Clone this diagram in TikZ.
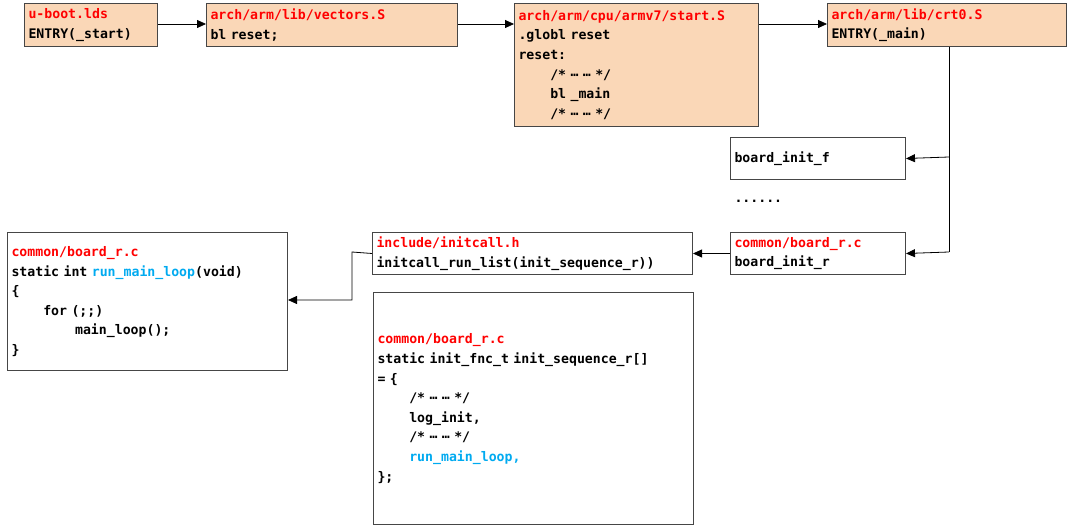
\documentclass[tikz,border=0pt]{standalone}
\usepackage{fontspec}
\setmonofont{DejaVu Sans Mono}
\usetikzlibrary{arrows.meta}
\definecolor{peach}{RGB}{250,215,183}
\definecolor{bord}{RGB}{70,70,70}
\definecolor{rd}{RGB}{255,0,0}
\definecolor{bl}{RGB}{0,170,240}
\newcommand{\ind}{\hphantom{xxxx}}
\newcommand{\indd}{\hphantom{xxxxxxxx}}
\newcommand{\dd}{⋯}
\begin{document}
\begin{tikzpicture}[x=1pt,y=-1pt,
  box/.style={draw=bord,line width=1pt,anchor=north west,inner xsep=4pt,inner ysep=0pt,align=left,
    font=\ttfamily\bfseries\fontsize{13.2}{19.6}\selectfont},
  pbox/.style={box,fill=peach},
  arr/.style={-{Triangle[length=9pt,width=8pt]},line width=0.8pt}]
\useasboundingbox (0,0) rectangle (1075,526);
\node[pbox,minimum width=133pt,minimum height=43pt,text width=125pt] (a) at (24,3) {\textcolor{rd}{u-boot.lds}\\ENTRY(\_start)};
\node[pbox,minimum width=251pt,minimum height=43pt,text width=243pt] (b) at (206,3) {\textcolor{rd}{arch/arm/lib/vectors.S}\\bl reset;};
\node[pbox,minimum width=244pt,minimum height=123pt,text width=236pt] (c) at (514,3) {\textcolor{rd}{arch/arm/cpu/armv7/start.S}\\.globl reset\\reset:\\\ind/* \dd{} \dd{} */\\\ind bl \_main\\\ind/* \dd{} \dd{} */};
\node[pbox,minimum width=239pt,minimum height=43pt,text width=231pt] (d) at (827,3) {\textcolor{rd}{arch/arm/lib/crt0.S}\\ENTRY(\_main)};
\node[box,minimum width=175pt,minimum height=42pt,text width=167pt] (e) at (730,137) {board\_init\_f};
\node[box,draw=none,anchor=west] (dots) at (730,201) {......};
\node[box,minimum width=175pt,minimum height=42pt,text width=167pt] (f) at (730,232) {\textcolor{rd}{common/board\_r.c}\\board\_init\_r};
\node[box,minimum width=320pt,minimum height=42pt,text width=312pt] (g) at (372,232) {\textcolor{rd}{include/initcall.h}\\initcall\_run\_list(init\_sequence\_r))};
\node[box,minimum width=280pt,minimum height=138pt,text width=272pt] (h) at (7,232) {\textcolor{rd}{common/board\_r.c}\\static int \textcolor{bl}{run\_main\_loop}(void)\\\{\\\ind for (;;)\\\indd main\_loop();\\\}};
\node[box,minimum width=320pt,minimum height=232pt,text width=312pt] (i) at (373,292) {\textcolor{rd}{common/board\_r.c}\\static init\_fnc\_t init\_sequence\_r[]\\= \{\\\ind/* \dd{} \dd{} */\\\ind log\_init,\\\ind/* \dd{} \dd{} */\\\ind\textcolor{bl}{run\_main\_loop,}\\\};};
\coordinate (j) at (949,157);
\coordinate (k) at (949,252);
\coordinate (m) at (352,252);
\coordinate (n) at (352,300);
\draw[arr] (a.east|-0,24) -- (b.west|-0,24);
\draw[arr] (b.east|-0,24) -- (c.west|-0,24);
\draw[arr] (c.east|-0,24) -- (d.west|-0,24);
\draw[line width=0.8pt] (d.south-|j) -- (k);
\draw[arr] (j) -- (e.east);
\draw[arr] (k) -- (f.east);
\draw[arr] (f.west) -- (g.east);
\draw[arr] (g.west) -- (m) -- (n) -- (h.east|-n);
\end{tikzpicture}
\end{document}
